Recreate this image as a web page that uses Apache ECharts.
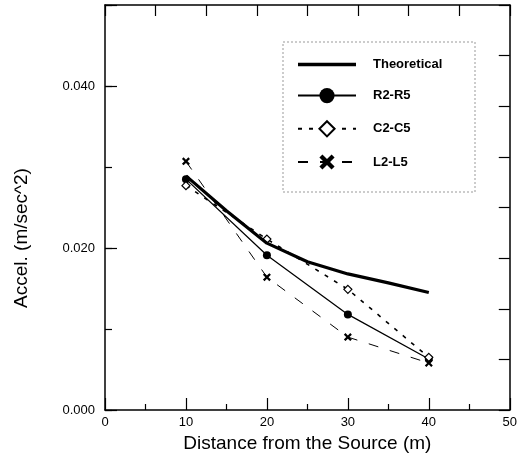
<!DOCTYPE html>
<html>
<head>
<meta charset="utf-8">
<script src="https://cdn.jsdelivr.net/npm/echarts@6/dist/echarts.min.js"></script>
<style>html,body{margin:0;padding:0;background:#fff}#c{width:520px;height:461px}</style>
</head>
<body>
<div id="c"></div>
<script>
const theoX = [10, 15, 20, 25, 30, 35, 40];
const theoY = [0.0289, 0.0246, 0.0206, 0.0183, 0.0168, 0.0157, 0.0145];
const distX = [10, 20, 30, 40];
const rY = [0.0285, 0.0191, 0.0118, 0.0063];
const cY = [0.0277, 0.0211, 0.0149, 0.0065];
const lY = [0.0307, 0.0164, 0.0090, 0.0058];
const seriesNames = ['Theoretical', 'R2-R5', 'C2-C5', 'L2-L5'];
const yLabels = ['0.000', '0.020', '0.040'];
const xTitle = 'Distance from the Source (m)';
const yTitle = 'Accel. (m/sec^2)';

const FONT = 'Liberation Sans';
const X_SYM = 'path://M2,0L5,3L8,0L10,2L7,5L10,8L8,10L5,7L2,10L0,8L3,5L0,2Z';
const BAR_ICON = 'path://M0,0L58,0L58,3.4L0,3.4Z';
const pair = (xs, ys) => xs.map((x, i) => [x, ys[i]]);
const blackLine = { onZero: false, lineStyle: { color: '#000', width: 1.5 } };

const chart = echarts.init(document.getElementById('c'));
chart.setOption({
  animation: false,
  backgroundColor: '#fff',
  grid: { left: 105, right: 7, top: 5, bottom: 51 },
  xAxis: [
    { type: 'value', min: 0, max: 50, interval: 10, position: 'bottom',
      name: xTitle, nameLocation: 'middle', nameGap: 22,
      nameTextStyle: { fontFamily: FONT, fontSize: 19, color: '#000' },
      axisLine: blackLine,
      axisTick: { inside: true, length: 12, lineStyle: { color: '#000', width: 1.2 } },
      minorTick: { show: true, splitNumber: 2, length: 6, lineStyle: { color: '#000', width: 1.2 } },
      axisLabel: { margin: 6, fontFamily: FONT, fontSize: 13, color: '#000' },
      splitLine: { show: false } },
    { type: 'value', min: 0, max: 8, interval: 1, position: 'top',
      axisLine: blackLine,
      axisTick: { inside: true, length: 11, lineStyle: { color: '#000', width: 1.2 } },
      axisLabel: { show: false }, splitLine: { show: false } }
  ],
  yAxis: [
    { type: 'value', min: 0, max: 0.05, interval: 0.02, position: 'left',
      axisLine: blackLine,
      axisTick: { inside: true, length: 12, lineStyle: { color: '#000', width: 1.2 } },
      axisLabel: { margin: 10, fontFamily: FONT, fontSize: 13, color: '#000',
        formatter: (v) => { const i = Math.round(v / 0.02); return (Math.abs(v - i * 0.02) < 1e-9 && i < yLabels.length) ? yLabels[i] : ''; } },
      splitLine: { show: false } },
    { type: 'value', min: 0, max: 8, interval: 1, position: 'right',
      axisLine: Object.assign({ show: true }, blackLine),
      axisTick: { inside: true, length: 11, lineStyle: { color: '#000', width: 1.2 } },
      axisLabel: { show: false }, splitLine: { show: false } },
    { type: 'value', min: 0, max: 5, interval: 1, position: 'left',
      axisLine: { show: false, onZero: false },
      axisTick: { inside: true, length: 7, lineStyle: { color: '#000', width: 1.2 } },
      axisLabel: { show: false }, splitLine: { show: false } }
  ],
  legend: {
    orient: 'vertical', left: 283, top: 44,
    padding: [14, 20, 20, 14],
    itemWidth: 58, itemHeight: 19, itemGap: 17,
    data: [{ name: seriesNames[0], icon: BAR_ICON }, seriesNames[1], seriesNames[2], seriesNames[3]],
    textStyle: { fontFamily: FONT, fontSize: 13, fontWeight: 'bold', color: '#000', padding: [0, 0, 0, 12] }
  },
  graphic: [
    { type: 'rect', shape: { x: 283, y: 42, width: 192, height: 150 },
      style: { fill: 'none', stroke: '#999', lineWidth: 1, lineDash: [2, 2] }, silent: true },
    { type: 'text', x: 22, y: 238, rotation: Math.PI / 2, silent: true,
      style: { text: yTitle, fontFamily: FONT, fontSize: 19, fill: '#000', align: 'center', verticalAlign: 'middle' } }
  ],
  series: [
    { name: seriesNames[0], type: 'line', data: pair(theoX, theoY), symbol: 'none',
      lineStyle: { color: '#000', width: 3.2 }, itemStyle: { color: '#000' }, z: 5 },
    { name: seriesNames[1], type: 'line', data: pair(distX, rY), symbol: 'circle', symbolSize: 8,
      lineStyle: { color: '#000', width: 1.3 }, itemStyle: { color: '#000' } },
    { name: seriesNames[2], type: 'line', data: pair(distX, cY), symbol: 'diamond', symbolSize: 8,
      lineStyle: { color: '#000', width: 1.6, type: [4, 7] },
      itemStyle: { color: '#fff', borderColor: '#000', borderWidth: 1.2 } },
    { name: seriesNames[3], type: 'line', data: pair(distX, lY), symbol: X_SYM, symbolSize: 8,
      lineStyle: { color: '#000', width: 1, type: [10, 12] }, itemStyle: { color: '#000' } }
  ]
});
</script>
</body>
</html>
